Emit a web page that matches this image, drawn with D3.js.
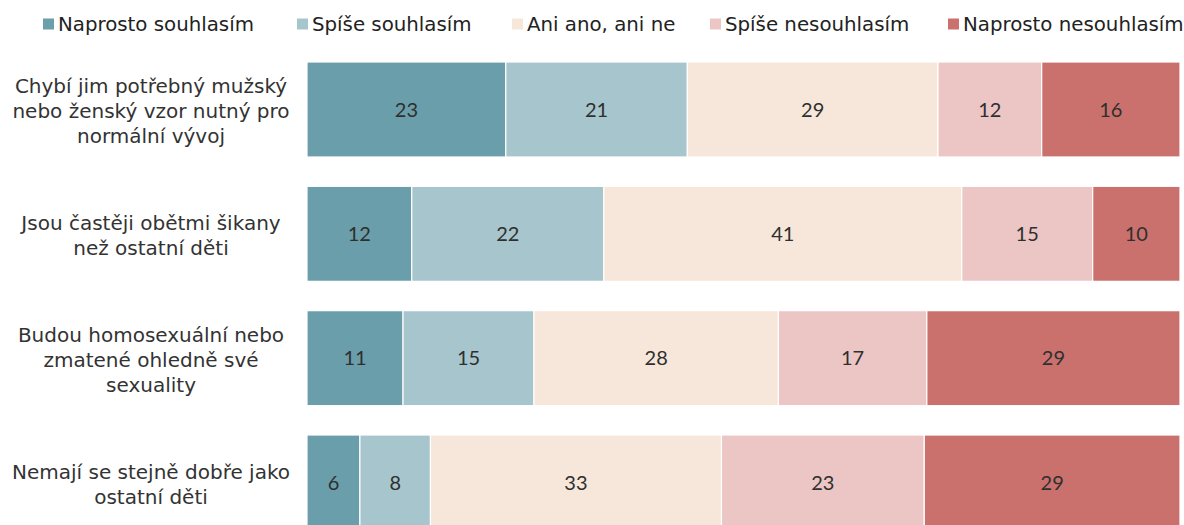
<!DOCTYPE html>
<html lang="cs">
<head>
  <meta charset="UTF-8">
  <title>Postoje k výchově dětí</title>
  <script src="https://d3js.org/d3.v7.min.js"></script>
  <style>
    body {
      margin: 0;
      background: #fff;
    }
    .legend text {
      font-family: "DejaVu Sans", Verdana, sans-serif;
      font-size: 19.8px;
      fill: #222;
    }
    .cat-label {
      font-family: "DejaVu Sans", Verdana, sans-serif;
      font-size: 20px;
      fill: #333;
    }
    .val-label {
      font-family: Lato, "Open Sans", sans-serif;
      font-size: 20px;
      fill: #2f2f2f;
    }
  </style>
</head>
<body>
  <svg width="1184" height="525"></svg>

  <script>
    const categories = [
      ["Chybí jim potřebný mužský", "nebo ženský vzor nutný pro", "normální vývoj"],
      ["Jsou častěji obětmi šikany", "než ostatní děti"],
      ["Budou homosexuální nebo", "zmatené ohledně své", "sexuality"],
      ["Nemají se stejně dobře jako", "ostatní děti"]
    ];
    const seriesNames = ["Naprosto souhlasím", "Spíše souhlasím", "Ani ano, ani ne", "Spíše nesouhlasím", "Naprosto nesouhlasím"];
    const seriesColors = ["#6a9eab", "#a7c5cc", "#f6e7da", "#ebc6c5", "#cb716d"];

    const naprostoSouhlasim = [23, 12, 11, 6];
    const spiseSouhlasim = [21, 22, 15, 8];
    const aniAnoAniNe = [29, 41, 28, 33];
    const spiseNesouhlasim = [12, 15, 17, 23];
    const naprostoNesouhlasim = [16, 10, 29, 29];

    const seriesValues = [naprostoSouhlasim, spiseSouhlasim, aniAnoAniNe, spiseNesouhlasim, naprostoNesouhlasim];

    // rows for d3.stack
    const rows = categories.map((c, i) => {
      const r = { idx: i };
      seriesNames.forEach((s, j) => { r[s] = seriesValues[j][i]; });
      return r;
    });

    const svg = d3.select("svg");

    const x = d3.scaleLinear().domain([0, 1]).range([307, 1180]);
    const y = d3.scaleBand()
      .domain(d3.range(categories.length))
      .range([62, 530])
      .paddingInner(0.236)
      .paddingOuter(0);
    const color = d3.scaleOrdinal().domain(seriesNames).range(seriesColors);

    const stacked = d3.stack()
      .keys(seriesNames)
      .offset(d3.stackOffsetExpand)(rows);

    const layers = svg.append("g")
      .selectAll("g")
      .data(stacked)
      .join("g")
      .attr("fill", d => color(d.key));

    layers.selectAll("rect")
      .data(d => d.map(p => Object.assign(p, { key: d.key })))
      .join("rect")
      .attr("x", d => x(d[0]))
      .attr("y", d => y(d.data.idx))
      .attr("width", d => x(d[1]) - x(d[0]))
      .attr("height", y.bandwidth())
      .attr("stroke", "#fff")
      .attr("stroke-width", 1.2);

    layers.selectAll("text")
      .data(d => d)
      .join("text")
      .attr("class", "val-label")
      .attr("x", d => (x(d[0]) + x(d[1])) / 2)
      .attr("y", d => y(d.data.idx) + y.bandwidth() / 2)
      .attr("dy", "0.36em")
      .attr("text-anchor", "middle")
      .text(d => d.data[d.key]);

    // category labels, centered to the left of the bars
    const lineH = 25;
    const catG = svg.append("g");
    categories.forEach((lines, i) => {
      const cy = y(i) + y.bandwidth() / 2 + 2;
      const t = catG.append("text")
        .attr("class", "cat-label")
        .attr("text-anchor", "middle")
        .attr("x", 151)
        .attr("y", cy - (lines.length - 1) * lineH / 2);
      lines.forEach((l, k) => {
        t.append("tspan")
          .attr("x", 151)
          .attr("dy", k === 0 ? "0.35em" : lineH)
          .text(l);
      });
    });

    // legend
    const legendX = [43, 297, 512, 710, 948];
    const legend = svg.append("g").attr("class", "legend");
    const items = legend.selectAll("g")
      .data(seriesNames)
      .join("g")
      .attr("transform", (d, i) => `translate(${legendX[i]},24)`);
    items.append("rect")
      .attr("x", 0)
      .attr("y", -5.5)
      .attr("width", 11)
      .attr("height", 11)
      .attr("fill", d => color(d));
    items.append("text")
      .attr("x", 15)
      .attr("dy", "0.35em")
      .text(d => d);
  </script>
</body>
</html>
